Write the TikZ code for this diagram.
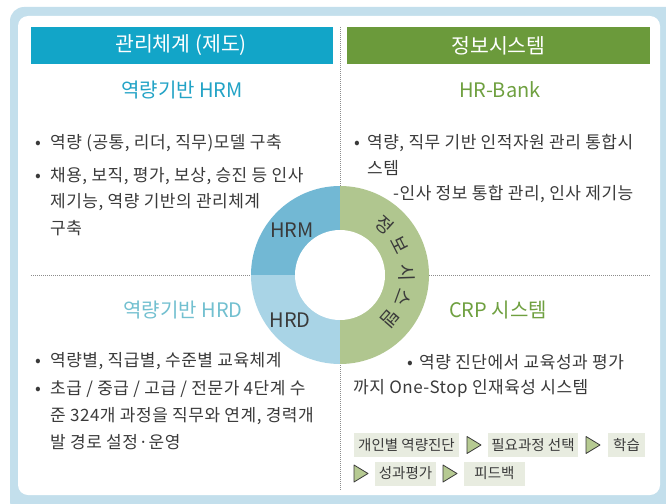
\documentclass[tikz,border=0pt]{standalone}
\usepackage{fontspec}
\usetikzlibrary{calc}
\setmainfont{Noto Sans CJK KR}
\newfontfamily\bodyfont[LetterSpace=3]{Noto Sans CJK KR}
\definecolor{framebl}{HTML}{C3DFEC}
\definecolor{tealhd}{HTML}{12A5C8}
\definecolor{greenhd}{HTML}{6B9A3B}
\definecolor{tealtx}{HTML}{22A3C6}
\definecolor{greentx}{HTML}{6FA040}
\definecolor{hrdtx}{HTML}{72C0D0}
\definecolor{hrmseg}{HTML}{72B8D4}
\definecolor{hrdseg}{HTML}{A9D4E6}
\definecolor{infoseg}{HTML}{B0C68F}
\definecolor{txtgray}{HTML}{3A3A3A}
\definecolor{flowbg}{HTML}{E8ECE0}
\definecolor{trifill}{HTML}{B6CA92}
\definecolor{dotgray}{HTML}{8C8C8C}
\tikzset{
  hdr/.style={inner sep=0pt, text=white, font=\fontsize{20.5}{24}\selectfont},
  subhd/.style={inner sep=0pt, font=\fontsize{20}{24}\selectfont},
  body/.style={inner sep=0pt, anchor=west, text=txtgray, font=\bodyfont\fontsize{17}{19}\selectfont, text height=15pt, text depth=2pt},
  bul/.style={inner sep=0pt, anchor=west, text=txtgray, font=\fontsize{17}{19}\selectfont, text height=15pt, text depth=2pt},
  ringtx/.style={inner sep=0pt, text=txtgray, font=\fontsize{18.5}{22}\selectfont},
  seglab/.style={inner sep=0pt, text=txtgray, font=\fontsize{20}{24}\selectfont},
  flowbox/.style={fill=flowbg, inner sep=0pt, minimum height=24pt, text=txtgray, font=\fontsize{14.5}{16}\selectfont},
  tri/.style={fill=trifill, draw=txtgray, line width=0.8pt, line join=round},
  dotl/.style={draw=dotgray, line width=0.9pt, dash pattern=on 1pt off 1pt}
}
\begin{document}
\begin{tikzpicture}[x=1pt,y=1pt]
\useasboundingbox (0,0) rectangle (666,-503);
\clip (0,0) rectangle (666,-503);
% frame
\fill[framebl, rounded corners=14pt] (10,-7) rectangle (680,-515);
\fill[white, rounded corners=10pt] (18,-16) rectangle (660,-495);
% headers
\fill[tealhd] (31,-27) rectangle (333,-64);
\fill[greenhd] (347,-27) rectangle (650,-64);
\node[hdr] (h1) at (181,-45.5) {관리체계 (제도)};
\node[hdr] (h2) at (498.5,-45.5) {정보시스템};
% dotted dividers
\coordinate (vt) at (340,-27);
\coordinate (vb) at (340,-490);
\coordinate (hl) at (31,-275);
\coordinate (hr) at (650,-275);
\draw[dotl] (vt) -- (vb);
\draw[dotl] (hl) -- (hr);
% donut
\coordinate (c) at (340,-275);
\fill[hrmseg] (c) -- ++(90:89) arc (90:180:89) -- cycle;
\fill[hrdseg] (c) -- ++(180:89) arc (180:270:89) -- cycle;
\fill[infoseg] (c) -- ++(-90:89) arc (-90:90:89) -- cycle;
\fill[white] (c) circle (45);
\node[seglab] (lhrm) at (292,-230) {HRM};
\node[seglab] (lhrd) at (290,-320) {HRD};
\foreach \a/\ch/\nm in {48/정/r1, 27/보/r2, 2/시/r3, -20/스/r4, -41/템/r5}{
  \pgfmathsetmacro{\rot}{\a-90}
  \node[ringtx, rotate=\rot] (\nm) at ($(c)+(\a:67)$) {\ch};
}
% sub headings
\node[subhd, text=tealtx] (s1) at (182,-90) {역량기반 HRM};
\node[subhd, text=greentx] (s2) at (500,-90) {HR-Bank};
\node[subhd, text=hrdtx] (s3) at (183,-310) {역량기반 HRD};
\node[subhd, text=greentx] (s4) at (498,-310) {CRP 시스템};
% top-left text
\node[bul] (b1) at (35,-142) {•};
\node[body] (t1) at (50,-142) {역량 (공통, 리더, 직무)모델 구축};
\node[bul] (b2) at (35,-175) {•};
\node[body] (t2) at (50,-175) {채용, 보직, 평가, 보상, 승진 등 인사};
\node[body] (t3) at (50,-201) {제기능, 역량 기반의 관리체계};
\node[body] (t4) at (50,-228) {구축};
% top-right text
\node[bul] (b3) at (354,-142) {•};
\node[body] (u1) at (367,-142) {역량, 직무 기반 인적자원 관리 통합시};
\node[body] (u2) at (367,-168) {스템};
\node[body] (u3) at (393,-193) {-인사 정보 통합 관리, 인사 제기능};
% bottom-left text
\node[bul] (b4) at (35,-360) {•};
\node[body] (v1) at (50,-360) {역량별, 직급별, 수준별 교육체계};
\node[bul] (b5) at (35,-388) {•};
\node[body] (v2) at (50,-388) {초급 / 중급 / 고급 / 전문가 4단계 수};
\node[body] (v3) at (50,-415) {준 324개 과정을 직무와 연계, 경력개};
\node[body] (v4) at (50,-442) {발 경로 설정·운영};
% bottom-right text
\node[bul] (b6) at (407,-362) {•};
\node[body] (w1) at (419,-362) {역량 진단에서 교육성과 평가};
\node[body] (w2) at (353,-387) {까지 One-Stop 인재육성 시스템};
% flow
\node[flowbox, minimum width=105pt] (f1) at (406.5,-445) {개인별 역량진단};
\node[flowbox, minimum width=90pt] (f2) at (533,-445) {필요과정 선택};
\node[flowbox, minimum width=37pt] (f3) at (626.5,-445) {학습};
\node[flowbox, minimum width=61pt] (f4) at (405.5,-473.5) {성과평가};
\node[flowbox, minimum width=61pt] (f5) at (494.5,-473.5) {피드백};
\foreach \x/\y/\nm in {467/-445/p1, 586/-445/p2, 354/-473.5/p3, 443/-473.5/p4}{
  \coordinate (\nm) at (\x,\y);
  \draw[tri] (\nm) ++(0,8.5) -- ++(14,-8.5) -- ++(-14,-8.5) -- cycle;
}
\end{tikzpicture}
\end{document}
